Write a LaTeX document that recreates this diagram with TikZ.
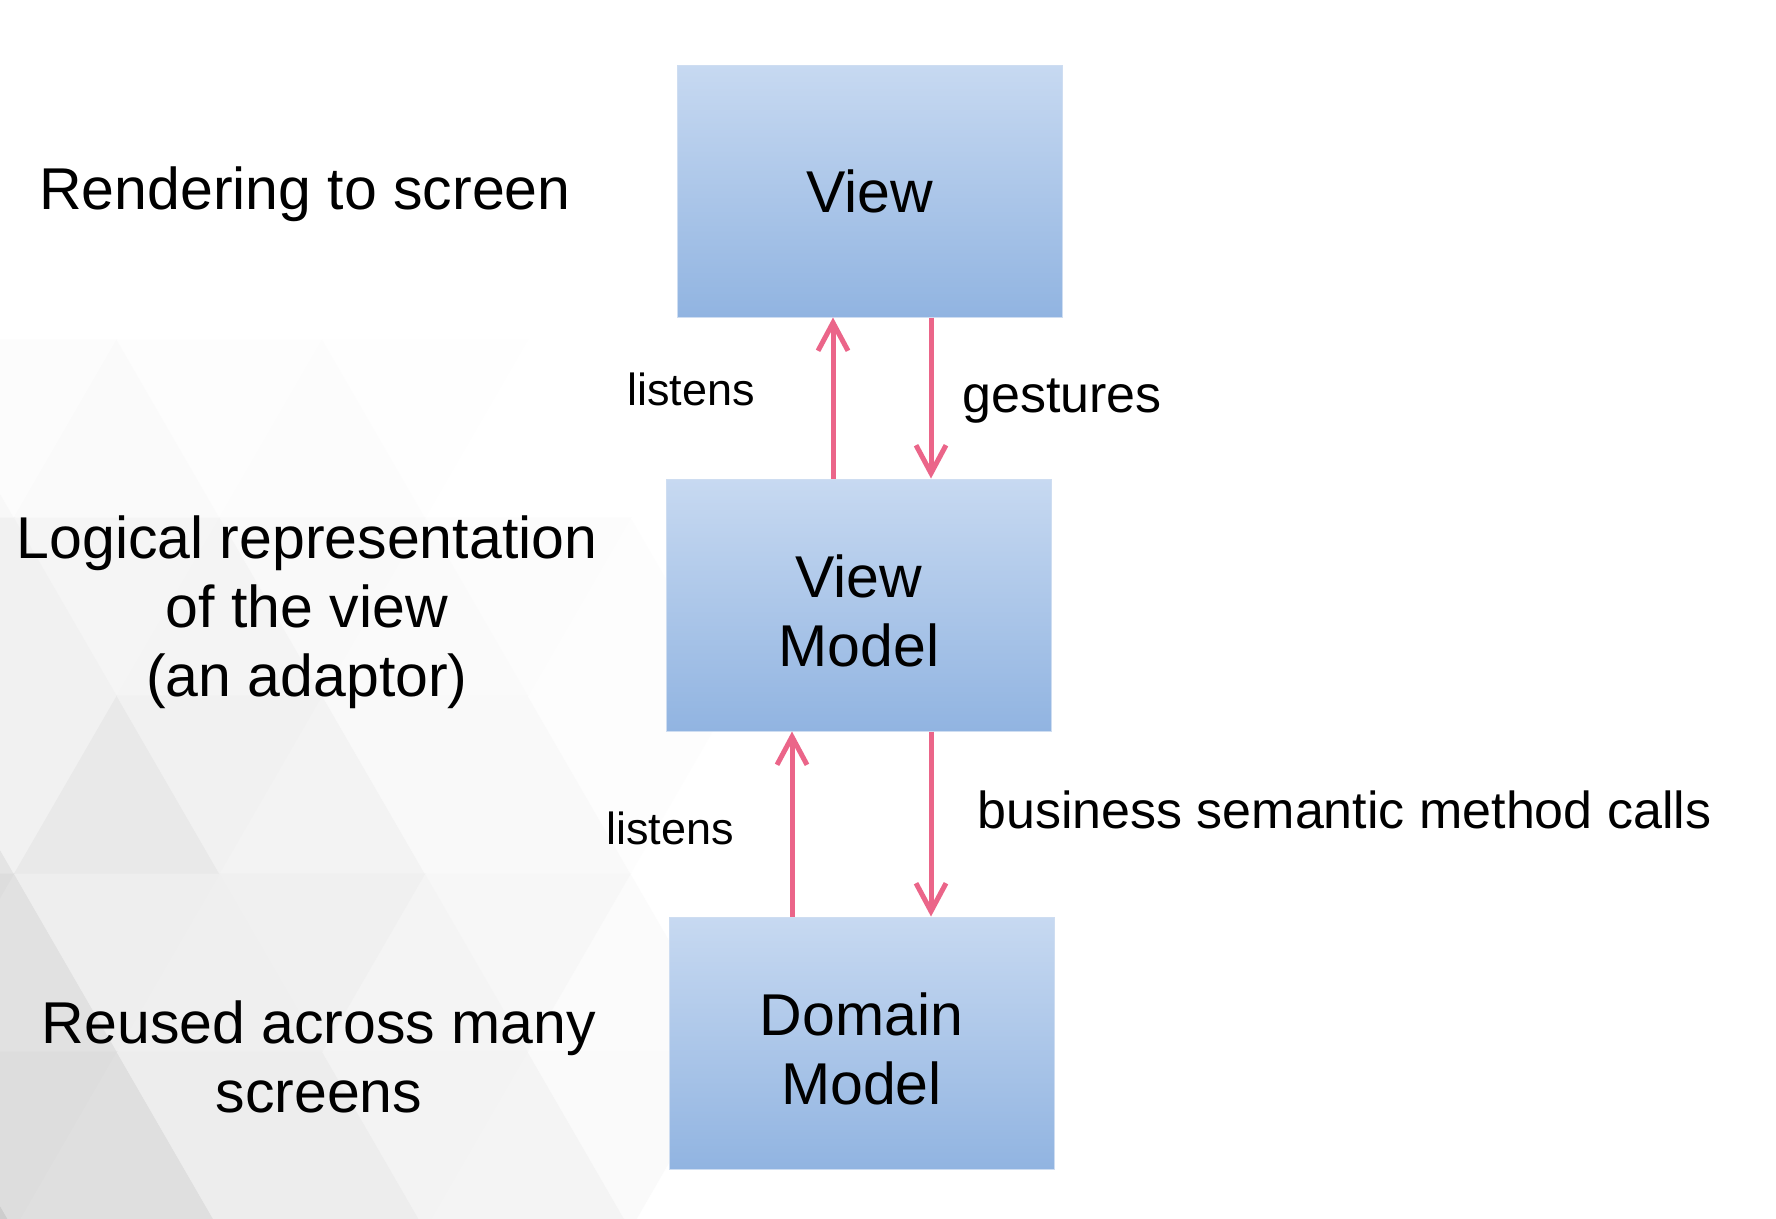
\documentclass[tikz,border=0pt]{standalone}
\usepackage{fontspec}
\setmainfont{Liberation Sans}
\usetikzlibrary{arrows.meta}
\definecolor{arrowpink}{RGB}{235,101,137}
\definecolor{boxtop}{RGB}{199,217,241}
\definecolor{boxbot}{RGB}{145,180,225}
\definecolor{boxedge}{RGB}{206,221,241}
\tikzset{
  box/.style={rectangle, minimum width=385pt, minimum height=252pt, inner sep=0pt,
    top color=boxtop, bottom color=boxbot, draw=boxedge, line width=1pt,
    align=center, font=\fontsize{59}{69}\selectfont},
  bigtext/.style={inner sep=0pt, align=center, font=\fontsize{59}{69}\selectfont},
  smalltext/.style={inner sep=0pt, font=\fontsize{45}{54}\selectfont},
  midtext/.style={inner sep=0pt, font=\fontsize{52}{62}\selectfont},
  arr/.style={draw=arrowpink, line width=5pt, -{Straight Barb[length=28pt,width=30pt]}},
  tile/.style={line width=0.6pt}
}
\begin{document}
\begin{tikzpicture}[x=1pt,y=-1pt]
\useasboundingbox (0,0) rectangle (1776,1218);
\fill[white] (0,0) rectangle (1776,1218);
% faint triangular background pattern
\begin{scope}
\clip (0,0) rectangle (1776,1218);
\pgfmathsetseed{11}
\foreach \r in {0,...,4}{
  \foreach \k in {-1,...,4}{
    \pgfmathsetmacro{\yt}{340+178*\r}
    \pgfmathsetmacro{\yb}{\yt+178}
    \pgfmathsetmacro{\ax}{(mod(\r,2)==0 ? 117 : 14.5) + 205.5*\k}
    % upward triangle
    \pgfmathsetmacro{\cx}{\ax}
    \pgfmathsetmacro{\cy}{\yt+118.7}
    \pgfmathsetmacro{\tt}{max(0,min(1,(\cy-330)/900))*max(0,1-\cx/720)}
    \pgfmathsetmacro{\p}{(\r==0 && \cx>430) ? 0 : \tt*(15+4*rand)}
    \fill[tile, fill=black!\p, draw=black!\p] (\ax,\yt) -- (\ax-102.75,\yb) -- (\ax+102.75,\yb) -- cycle;
    % downward triangle
    \pgfmathsetmacro{\cx}{\ax+102.75}
    \pgfmathsetmacro{\cy}{\yt+59.3}
    \pgfmathsetmacro{\tt}{max(0,min(1,(\cy-330)/900))*max(0,1-\cx/720)}
    \pgfmathsetmacro{\p}{(\r==0 && \cx>430) ? 0 : \tt*(15+4*rand)}
    \fill[tile, fill=black!\p, draw=black!\p] (\ax,\yt) -- (\ax+205.5,\yt) -- (\ax+102.75,\yb) -- cycle;
  }
}
\end{scope}

% boxes
\node[box] (view) at (869.5,191) {View};
\node[box] (vm) at (859,605) {\rule{0pt}{54pt}View\\Model};
\node[box] (dm) at (861.5,1043) {\rule{0pt}{54pt}Domain\\Model};

% left descriptions
\node[bigtext, anchor=base] (render) at (305,209) {Rendering to screen};
\node[bigtext, anchor=north] (logical) at (307,516) {Logical representation\\of the view\\(an adaptor)};
\node[bigtext, anchor=north] (reused) at (319,1001) {Reused across many\\screens};

% connector labels
\node[smalltext, anchor=base] (lis1) at (691,405) {listens};
\node[midtext, anchor=base west] (ges) at (962,412) {gestures};
\node[smalltext, anchor=base] (lis2) at (670,844) {listens};
\node[midtext, anchor=base west] (bus) at (977,828) {business semantic method calls};

% connectors
\coordinate (c1) at (833,0);
\coordinate (c2) at (931,0);
\coordinate (c3) at (792,0);
\draw[arr] (vm.north -| c1) -- (view.south -| c1);
\draw[arr] (view.south -| c2) -- (vm.north -| c2);
\draw[arr] (dm.north -| c3) -- (vm.south -| c3);
\draw[arr] (vm.south -| c2) -- (dm.north -| c2);
\end{tikzpicture}
\end{document}
